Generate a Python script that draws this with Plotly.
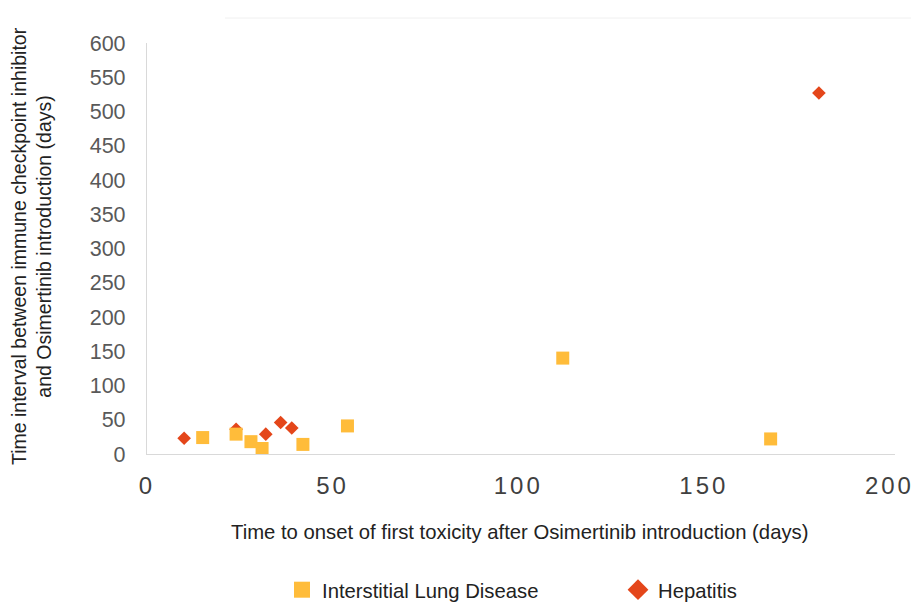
import plotly.graph_objects as go

# Data
ild_onset_days = [15, 24, 28, 31, 42, 54, 112, 168]
ild_interval_days = [24, 29, 18, 8, 14, 41, 140, 22]

hep_onset_days = [10, 24, 32, 36, 39, 181]
hep_interval_days = [23, 36, 29, 46, 38, 527]

x_ticks = [0, 50, 100, 150, 200]
y_ticks = [0, 50, 100, 150, 200, 250, 300, 350, 400, 450, 500, 550, 600]

ILD_COLOR = "#FFBC3A"
HEP_COLOR = "#E4461A"

# page has an 8px body margin; figure coordinates = page coordinates - 8
OFF = 8
W, H = 919 - OFF, 603 - OFF
PL, PR, PT, PB = 147, 895, 43, 454          # plot area in page pixels
L, T = PL - OFF, PT - OFF
R = W - (PR - OFF)
B = H - (PB - OFF)
pw = PR - PL
ph = PB - PT


def px(xp):
    return (xp - PL) / pw


def py(yp):
    return (PB - yp) / ph


fig = go.Figure()
fig.add_trace(go.Scatter(
    x=hep_onset_days, y=hep_interval_days, mode="markers", name="Hepatitis",
    marker=dict(symbol="diamond", size=10.5, color=HEP_COLOR), showlegend=False,
))
fig.add_trace(go.Scatter(
    x=ild_onset_days, y=ild_interval_days, mode="markers", name="Interstitial Lung Disease",
    marker=dict(symbol="square", size=13, color=ILD_COLOR), showlegend=False,
))
# legend entries (larger symbols, as in the reference legend)
fig.add_trace(go.Scatter(
    x=[None], y=[None], mode="markers", name="Interstitial Lung Disease",
    marker=dict(symbol="square", size=16, color=ILD_COLOR), legendrank=1,
))
fig.add_trace(go.Scatter(
    x=[None], y=[None], mode="markers", name="Hepatitis",
    marker=dict(symbol="diamond", size=16, color=HEP_COLOR), legendrank=2,
))

fig.update_layout(
    width=W, height=H,
    margin=dict(l=L, r=R, t=T, b=B, autoexpand=False),
    paper_bgcolor="white", plot_bgcolor="white",
    font=dict(family="Liberation Sans, Arial, sans-serif", color="#222222"),
    showlegend=True,
    legend=dict(
        orientation="h", x=px(282), xanchor="left",
        y=py(590), yanchor="middle",
        font=dict(size=20.3, color="#222222"),
        entrywidth=291, entrywidthmode="pixels",
        traceorder="normal", itemsizing="trace",
        bgcolor="rgba(0,0,0,0)",
    ),
    xaxis=dict(
        range=[0, 201.5], tickvals=x_ticks,
        ticktext=['<span style="letter-spacing:3px">%d</span>' % v for v in x_ticks],
        showgrid=False, zeroline=False, showline=True, linecolor="#d9d9d9", linewidth=1.3,
        ticks="", tickfont=dict(size=24, color="#404040"), ticklabelstandoff=10,
    ),
    yaxis=dict(
        range=[0, 600], tickvals=y_ticks, ticktext=[str(v) for v in y_ticks],
        showgrid=False, zeroline=False, showline=True, linecolor="#d9d9d9", linewidth=1.3,
        ticks="", tickfont=dict(size=21.5, color="#595959"), ticklabelstandoff=16,
    ),
)

# X axis title
fig.add_annotation(
    text="Time to onset of first toxicity after Osimertinib introduction (days)",
    xref="paper", yref="paper", x=px(519), y=py(532),
    xanchor="center", yanchor="middle", showarrow=False,
    font=dict(size=20.3, color="#222222"),
)
# Y axis title (two lines)
fig.add_annotation(
    text="Time interval between immune checkpoint inhibitor<br>and Osimertinib introduction (days)",
    xref="paper", yref="paper", x=px(32), y=py(246),
    xanchor="center", yanchor="middle", showarrow=False, textangle=-90,
    font=dict(size=19.5, color="#222222"),
)
# faint chart-area top border
fig.add_shape(type="line", xref="paper", yref="paper",
              x0=px(225), x1=px(930), y0=py(18), y1=py(18),
              line=dict(color="#f0f0f0", width=1))

fig.write_html("out.html")
